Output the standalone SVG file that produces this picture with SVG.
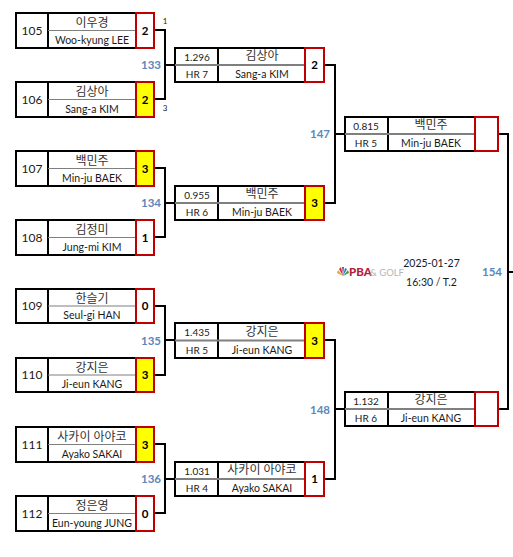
<svg xmlns="http://www.w3.org/2000/svg" width="513" height="557" viewBox="0 0 513 557">
<style>
text{font-family:Lato,"Noto Sans CJK KR",sans-serif;fill:#1a1a1a;text-anchor:middle}
.box{fill:#fff;stroke:#000;stroke-width:2}
.sc{fill:#fff;stroke:#c00000;stroke-width:2}
.win{fill:#ffff00}
.dv{stroke:#7f7f7f;stroke-width:1}
.dv2{stroke:#7f7f7f;stroke-width:2}
.ln{stroke:#000;stroke-width:2}
.n{font-size:12px}
.ko{font-size:12px;fill:#333}
.en{font-size:10.500px}
.s{font-size:11.500px;font-weight:700;fill:#000}
.m{font-size:10px}
.d{font-size:10.500px}
.id{font-size:11.500px;font-weight:700;fill:#5b87bd}
.t{font-size:8px}
.c{fill:none;stroke:#000;stroke-width:2}
</style>
<g id="connectors">
<path class="c" d="M154 30H165V99H154M165 65H175"/>
<path class="c" d="M154 168H165V237H154M165 203H175"/>
<path class="c" d="M154 306H165V375H154M165 340H175"/>
<path class="c" d="M154 444H165V513H154M165 479H175"/>
<path class="c" d="M324 65H335V203H324M335 134H345"/>
<path class="c" d="M324 340H335V479H324M335 409H345"/>
<path class="c" d="M498 134H508V409H498M508 272H513"/>
</g>
<g id="labels">
<text class="t" x="165" y="24">1</text><text class="t" x="165" y="111">3</text>
<text class="id" x="151" y="69">133</text>
<text class="id" x="151" y="207">134</text>
<text class="id" x="151" y="345">135</text>
<text class="id" x="151" y="483">136</text>
<text class="id" x="320" y="138">147</text>
<text class="id" x="320" y="414">148</text>
<text class="id" x="492" y="276">154</text>
</g>
<g id="m105"><rect class="box" x="16" y="13" width="120" height="35"/><path class="ln" d="M48 13V48"/><path class="dv" d="M48 30.500H136"/><rect class="sc" x="136" y="13" width="18" height="35"/><text class="n" x="32" y="34.500">105</text><text class="ko" x="92" y="27">이우경</text><text class="en" x="92" y="43.500">Woo-kyung LEE</text><text class="s" x="145" y="34.500">2</text></g>
<g id="m106"><rect class="box" x="16" y="82" width="120" height="35"/><path class="ln" d="M48 82V117"/><path class="dv" d="M48 99.500H136"/><rect class="sc win" x="136" y="82" width="18" height="35"/><text class="n" x="32" y="103.500">106</text><text class="ko" x="92" y="96">김상아</text><text class="en" x="92" y="112.500">Sang-a KIM</text><text class="s" x="145" y="103.500">2</text></g>
<g id="m107"><rect class="box" x="16" y="151" width="120" height="35"/><path class="ln" d="M48 151V186"/><path class="dv" d="M48 168.500H136"/><rect class="sc win" x="136" y="151" width="18" height="35"/><text class="n" x="32" y="172.500">107</text><text class="ko" x="92" y="165">백민주</text><text class="en" x="92" y="181.500">Min-ju BAEK</text><text class="s" x="145" y="172.500">3</text></g>
<g id="m108"><rect class="box" x="16" y="220" width="120" height="35"/><path class="ln" d="M48 220V255"/><path class="dv" d="M48 237.500H136"/><rect class="sc" x="136" y="220" width="18" height="35"/><text class="n" x="32" y="241.500">108</text><text class="ko" x="92" y="234">김정미</text><text class="en" x="92" y="250.500">Jung-mi KIM</text><text class="s" x="145" y="241.500">1</text></g>
<g id="m109"><rect class="box" x="16" y="289" width="120" height="34"/><path class="ln" d="M48 289V323"/><path class="dv" d="M48 306H136"/><rect class="sc" x="136" y="289" width="18" height="34"/><text class="n" x="32" y="310">109</text><text class="ko" x="92" y="303">한슬기</text><text class="en" x="92" y="319">Seul-gi HAN</text><text class="s" x="145" y="310">0</text></g>
<g id="m110"><rect class="box" x="16" y="358" width="120" height="34"/><path class="ln" d="M48 358V392"/><path class="dv" d="M48 375H136"/><rect class="sc win" x="136" y="358" width="18" height="34"/><text class="n" x="32" y="379">110</text><text class="ko" x="92" y="372">강지은</text><text class="en" x="92" y="388">Ji-eun KANG</text><text class="s" x="145" y="379">3</text></g>
<g id="m111"><rect class="box" x="16" y="427" width="120" height="35"/><path class="ln" d="M48 427V462"/><path class="dv" d="M48 444.500H136"/><rect class="sc win" x="136" y="427" width="18" height="35"/><text class="n" x="32" y="448.500">111</text><text class="ko" x="92" y="441">사카이 아야코</text><text class="en" x="92" y="457.500">Ayako SAKAI</text><text class="s" x="145" y="448.500">3</text></g>
<g id="m112"><rect class="box" x="16" y="496" width="120" height="35"/><path class="ln" d="M48 496V531"/><path class="dv" d="M48 513.500H136"/><rect class="sc" x="136" y="496" width="18" height="35"/><text class="n" x="32" y="517.500">112</text><text class="ko" x="92" y="510">정은영</text><text class="en" x="92" y="526.500">Eun-young JUNG</text><text class="s" x="145" y="517.500">0</text></g>
<g id="r133"><rect class="box" x="175" y="48" width="130" height="34"/><path class="ln" d="M218 48V82"/><path class="dv2" d="M175 65H305"/><rect class="sc" x="305" y="48" width="19" height="34"/><text class="m" x="197" y="60.500">1.296</text><text class="m" x="197" y="77.500">HR 7</text><text class="ko" x="262" y="60">김상아</text><text class="en" x="262" y="77.500">Sang-a KIM</text><text class="s" x="314.500" y="69">2</text></g>
<g id="r134"><rect class="box" x="175" y="186" width="130" height="34"/><path class="ln" d="M218 186V220"/><path class="dv2" d="M175 203H305"/><rect class="sc win" x="305" y="186" width="19" height="34"/><text class="m" x="197" y="198.500">0.955</text><text class="m" x="197" y="215.500">HR 6</text><text class="ko" x="262" y="198">백민주</text><text class="en" x="262" y="215.500">Min-ju BAEK</text><text class="s" x="314.500" y="207">3</text></g>
<g id="r135"><rect class="box" x="175" y="323" width="130" height="35"/><path class="ln" d="M218 323V358"/><path class="dv2" d="M175 340.500H305"/><rect class="sc win" x="305" y="323" width="19" height="35"/><text class="m" x="197" y="336">1.435</text><text class="m" x="197" y="353.500">HR 5</text><text class="ko" x="262" y="335.500">강지은</text><text class="en" x="262" y="353.500">Ji-eun KANG</text><text class="s" x="314.500" y="344.500">3</text></g>
<g id="r136"><rect class="box" x="175" y="462" width="130" height="34"/><path class="ln" d="M218 462V496"/><path class="dv2" d="M175 479H305"/><rect class="sc" x="305" y="462" width="19" height="34"/><text class="m" x="197" y="474.500">1.031</text><text class="m" x="197" y="491.500">HR 4</text><text class="ko" x="262" y="474">사카이 아야코</text><text class="en" x="262" y="491.500">Ayako SAKAI</text><text class="s" x="314.500" y="483">1</text></g>
<g id="r147"><rect class="box" x="345" y="117" width="130" height="34"/><path class="ln" d="M388 117V151"/><path class="dv2" d="M345 134H475"/><rect class="sc" x="475" y="117" width="23" height="34"/><text class="m" x="366" y="129.500">0.815</text><text class="m" x="366" y="146.500">HR 5</text><text class="ko" x="431" y="129">백민주</text><text class="en" x="431" y="146.500">Min-ju BAEK</text></g>
<g id="r148"><rect class="box" x="345" y="392" width="130" height="34"/><path class="ln" d="M388 392V426"/><path class="dv2" d="M345 409H475"/><rect class="sc" x="475" y="392" width="23" height="34"/><text class="m" x="366" y="404.500">1.132</text><text class="m" x="366" y="421.500">HR 6</text><text class="ko" x="431" y="404">강지은</text><text class="en" x="431" y="421.500">Ji-eun KANG</text></g>
<g id="info">
<path fill="#e8a33d" d="M343 276l-6-3 1-3z"/><path fill="#d6322a" d="M343 276l-4-7 2-2z"/><path fill="#7a4a9c" d="M343 276l-1-9h2z"/><path fill="#2f6fb5" d="M343 276l2-8 2 1z"/><path fill="#3f9e4d" d="M343 276l5-6 1 3z"/>
<text x="360.500" y="276" style="font-size:11.500px;font-weight:900;fill:#b2213a">PBA</text>
<text x="387" y="276" style="font-size:9.500px;fill:#b5b5b5">&amp; GOLF</text>
<text class="d" x="431.500" y="267">2025-01-27</text>
<text class="d" x="431.500" y="285.500">16:30 / T.2</text>
</g>
</svg>
